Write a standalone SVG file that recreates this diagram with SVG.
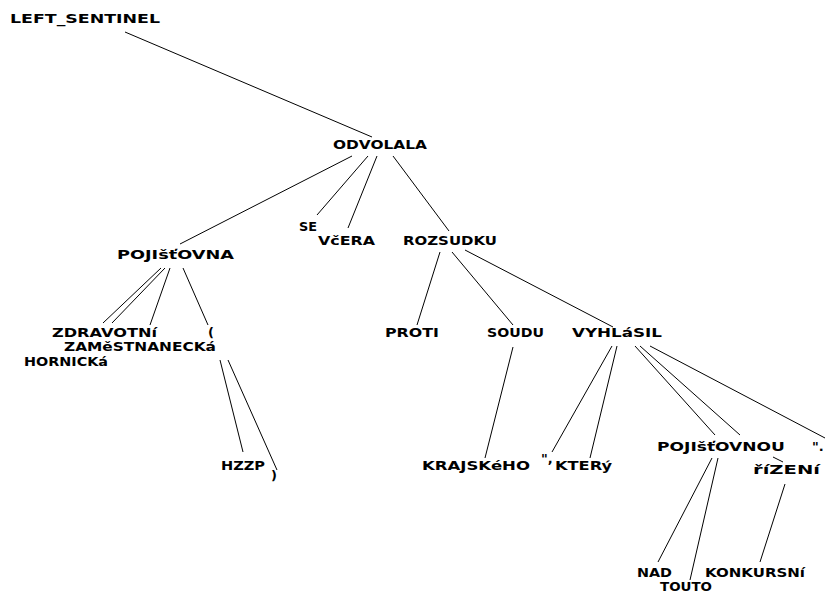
<svg xmlns="http://www.w3.org/2000/svg" width="829" height="593" viewBox="0 0 829 593">
<style>
text{font-family:"DejaVu Sans","Liberation Sans",sans-serif;font-weight:bold;font-size:13px;fill:#000}
line{stroke:#000;stroke-width:1}
</style>
<rect width="829" height="593" fill="#fff"/>
<g id="connectors">
<line x1="125" y1="32" x2="372" y2="137"/>
<line x1="352" y1="156" x2="180" y2="244"/>
<line x1="368" y1="156" x2="317" y2="215"/>
<line x1="377" y1="156" x2="348" y2="228"/>
<line x1="393" y1="156" x2="449" y2="231"/>
<line x1="161" y1="268" x2="103" y2="323"/>
<line x1="165" y1="268" x2="112" y2="323"/>
<line x1="170" y1="268" x2="150" y2="325"/>
<line x1="183" y1="268" x2="208" y2="325"/>
<line x1="220" y1="360" x2="243" y2="452"/>
<line x1="228" y1="360" x2="277" y2="470"/>
<line x1="440" y1="252" x2="417" y2="325"/>
<line x1="452" y1="252" x2="513" y2="325"/>
<line x1="465" y1="250" x2="613" y2="327"/>
<line x1="513" y1="347" x2="485" y2="458"/>
<line x1="612" y1="346" x2="552" y2="452"/>
<line x1="617" y1="346" x2="590" y2="458"/>
<line x1="635" y1="346" x2="715" y2="435"/>
<line x1="640" y1="346" x2="740" y2="435"/>
<line x1="773" y1="457" x2="783" y2="462"/>
<line x1="650" y1="346" x2="825" y2="438"/>
<line x1="712" y1="458" x2="658" y2="562"/>
<line x1="718" y1="458" x2="690" y2="580"/>
<line x1="785" y1="484" x2="760" y2="562"/>
</g>
<g id="n_left_sentinel"><text x="10" y="23" textLength="150" lengthAdjust="spacingAndGlyphs">LEFT_SENTINEL</text></g>
<g id="n_odvolala"><text x="333" y="149" textLength="94" lengthAdjust="spacingAndGlyphs">ODVOLALA</text></g>
<g id="n_pojistovna"><text x="117" y="259" textLength="117" lengthAdjust="spacingAndGlyphs">POJIšťOVNA</text></g>
<g id="n_se"><text x="299" y="231" textLength="18" lengthAdjust="spacingAndGlyphs">SE</text></g>
<g id="n_vcera"><text x="318" y="245" textLength="57" lengthAdjust="spacingAndGlyphs">VčERA</text></g>
<g id="n_rozsudku"><text x="403" y="245" textLength="94" lengthAdjust="spacingAndGlyphs">ROZSUDKU</text></g>
<g id="n_zdravotni"><text x="52" y="337" textLength="105" lengthAdjust="spacingAndGlyphs">ZDRAVOTNí</text></g>
<g id="n_zamestnanecka"><text x="64" y="351" textLength="152" lengthAdjust="spacingAndGlyphs">ZAMěSTNANECKá</text></g>
<g id="n_hornicka"><text x="24" y="366" textLength="84" lengthAdjust="spacingAndGlyphs">HORNICKá</text></g>
<g id="n_lparen"><text x="208" y="337">(</text></g>
<g id="n_hzzp"><text x="221" y="470" textLength="44" lengthAdjust="spacingAndGlyphs">HZZP</text></g>
<g id="n_rparen"><text x="271" y="480">)</text></g>
<g id="n_proti"><text x="385" y="337" textLength="54" lengthAdjust="spacingAndGlyphs">PROTI</text></g>
<g id="n_soudu"><text x="487" y="337" textLength="57" lengthAdjust="spacingAndGlyphs">SOUDU</text></g>
<g id="n_vyhlasil"><text x="572" y="337" textLength="90" lengthAdjust="spacingAndGlyphs">VYHLáSIL</text></g>
<g id="n_krajskeho"><text x="422" y="470" textLength="108" lengthAdjust="spacingAndGlyphs">KRAJSKéHO</text></g>
<g id="n_quote_comma"><text x="541" y="463">",</text></g>
<g id="n_ktery"><text x="555" y="470" textLength="57" lengthAdjust="spacingAndGlyphs">KTERý</text></g>
<g id="n_pojistovnou"><text x="657" y="451" textLength="128" lengthAdjust="spacingAndGlyphs">POJIšťOVNOU</text></g>
<g id="n_quote_dot"><text x="812" y="451">".</text></g>
<g id="n_rizeni"><text x="753" y="474" textLength="67" lengthAdjust="spacingAndGlyphs">říZENí</text></g>
<g id="n_nad"><text x="637" y="577" textLength="35" lengthAdjust="spacingAndGlyphs">NAD</text></g>
<g id="n_touto"><text x="660" y="591" textLength="52" lengthAdjust="spacingAndGlyphs">TOUTO</text></g>
<g id="n_konkursni"><text x="705" y="577" textLength="100" lengthAdjust="spacingAndGlyphs">KONKURSNí</text></g>
</svg>
